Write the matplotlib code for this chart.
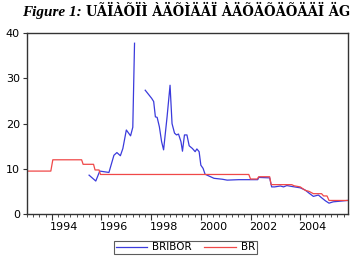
import matplotlib.pyplot as plt
import numpy as np
from matplotlib.transforms import blended_transform_factory

# BRIBOR (blue); NaN marks the gap
bribor_t = [1995.50, 1995.77, 1995.93, 1996.30, 1996.50, 1996.62, 1996.76, 1996.86,
            1997.00, 1997.17, 1997.26, 1997.33, 1997.50,
            1997.76, 1998.02, 1998.10, 1998.17, 1998.24, 1998.33, 1998.42, 1998.50,
            1998.64, 1998.76, 1998.84, 1998.94, 1999.02, 1999.10, 1999.20, 1999.26,
            1999.34, 1999.44, 1999.53, 1999.66, 1999.77, 1999.84, 1999.93, 2000.00,
            2000.09, 2000.17, 2000.33, 2000.53, 2000.86, 2001.06, 2001.53, 2001.93,
            2002.01, 2002.29, 2002.33, 2002.77, 2002.85, 2002.97, 2003.20, 2003.33,
            2003.46, 2003.66, 2004.00, 2004.20, 2004.36, 2004.53, 2004.73, 2004.86,
            2005.02, 2005.16, 2005.33, 2005.53, 2005.90]
bribor_v = [8.6, 7.3, 9.5, 9.2, 13.0, 13.6, 12.9, 14.5,
            18.6, 17.3, 19.2, 37.8, np.nan,
            27.4, 25.6, 24.9, 21.5, 21.4, 19.3, 16.0, 14.2,
            21.5, 28.5, 20.0, 17.9, 17.5, 17.7, 16.0, 13.9,
            17.5, 17.5, 15.1, 14.5, 13.8, 14.4, 13.8, 10.8,
            10.1, 8.8, 8.4, 7.9, 7.7, 7.5, 7.6, 7.6,
            7.6, 7.6, 8.1, 8.0, 6.0, 6.0, 6.2, 6.0,
            6.3, 6.1, 5.8, 5.3, 4.6, 3.9, 4.2, 3.6,
            2.9, 2.4, 2.7, 2.8, 3.0]

# BR (red), step-like policy rate
br_t = [1993.00, 1993.96, 1994.04, 1995.20, 1995.26, 1995.68, 1995.74, 1995.90,
        1995.96, 2001.93, 2002.00, 2002.27, 2002.33, 2002.77, 2002.83, 2003.66,
        2003.75, 2004.00, 2004.20, 2004.36, 2004.53, 2004.86, 2004.94, 2005.08,
        2005.16, 2005.90]
br_v = [9.5, 9.5, 12.0, 12.0, 11.0, 11.0, 9.75, 9.75,
        8.75, 8.75, 7.75, 7.75, 8.25, 8.25, 6.5, 6.5,
        6.25, 6.0, 5.25, 5.0, 4.5, 4.5, 4.0, 4.0,
        3.0, 3.0]

years = [1994, 1996, 1998, 2000, 2002, 2004]

fig = plt.figure(figsize=(3.55, 2.58), dpi=100)
ax = fig.add_axes([0.076, 0.1705, 0.904, 0.7005])

ax.plot(bribor_t, bribor_v, color="#3b3bdc", lw=0.9, label="BRIBOR")
ax.plot(br_t, br_v, color="#f04848", lw=0.9, label="BR")

ax.set_xlim(1993.0, 2005.92)
ax.set_ylim(0, 40)
ax.set_yticks([0, 10, 20, 30, 40])
ax.set_xticks(years)
ax.set_xticklabels([])
ax.set_xticks(np.arange(1993.0, 2006.0, 0.25), minor=True)
ax.tick_params(axis="x", which="major", length=4, width=0.8, color="#333333")
ax.tick_params(axis="x", which="minor", length=2, width=0.6, color="#333333")
ax.tick_params(axis="y", length=3, width=0.8, labelsize=8, color="#333333", pad=2)
for s in ax.spines.values():
    s.set_color("#333333")
    s.set_linewidth(1.0)

tr = blended_transform_factory(ax.transData, ax.transAxes)
for yr in years:
    ax.text(yr + 0.5, -0.045, str(yr), transform=tr, ha="center", va="top", fontsize=8)

leg = ax.legend(loc="upper center", bbox_to_anchor=(0.494, -0.148), ncol=2,
                fontsize=7.5, frameon=True, fancybox=False, handlelength=3.0,
                columnspacing=1.2, borderpad=0.15, handletextpad=0.5,
                borderaxespad=0)
leg.get_frame().set_edgecolor("#333333")
leg.get_frame().set_linewidth(0.8)

fig.text(0.062, 0.953, "Figure 1:", fontsize=11, fontweight="bold", fontstyle="italic",
         family="Liberation Serif", va="center")
fig.text(0.243, 0.953, "UÃÏÀÕÏÌ ÀÄÕÌÄÄÏ ÀÄÕÄÕÄÕÄÄÏ ÄG", fontsize=10.5,
         fontweight="bold", family="DejaVu Serif", stretch="condensed", va="center")

fig.savefig("out.png", dpi=100)
